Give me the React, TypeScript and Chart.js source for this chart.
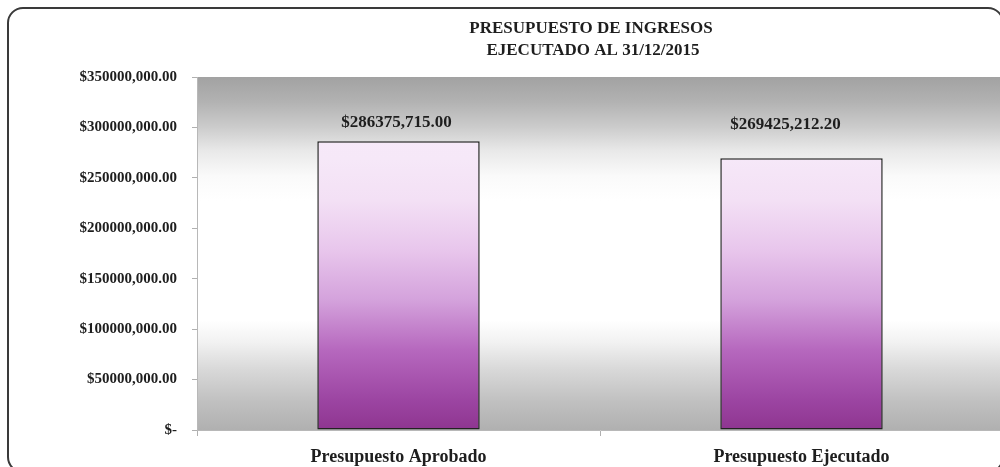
import React, { useEffect, useRef } from "react";
import { Chart, registerables } from "chart.js";

Chart.register(...registerables);

const titleLines = ["PRESUPUESTO DE INGRESOS", "EJECUTADO AL 31/12/2015"];
const categories = ["Presupuesto Aprobado", "Presupuesto Ejecutado"];
const values = [286375715.0, 269425212.2];
const yTickLabels = [
  "$-",
  "$50000,000.00",
  "$100000,000.00",
  "$150000,000.00",
  "$200000,000.00",
  "$250000,000.00",
  "$300000,000.00",
  "$350000,000.00",
];
const yMax = 350000000;
const yStep = 50000000;

const FONT = "'Liberation Serif', 'DejaVu Serif', serif";

function formatMoney(v: number): string {
  const cents = Math.round(v * 100);
  const whole = Math.floor(cents / 100);
  const frac = String(cents % 100).padStart(2, "0");
  const thousands = Math.floor(whole / 1000);
  const rest = String(whole % 1000).padStart(3, "0");
  return "$" + thousands + "," + rest + "." + frac;
}

const bgPlugin = {
  id: "plotBg",
  beforeDraw(chart: any) {
    const { ctx, chartArea } = chart;
    if (!chartArea) return;
    const { left, right, top, bottom } = chartArea;
    const g = ctx.createLinearGradient(0, top, 0, bottom);
    g.addColorStop(0, "#a2a2a2");
    g.addColorStop(0.07, "#b2b2b2");
    g.addColorStop(0.14, "#cbcbcb");
    g.addColorStop(0.21, "#e9e9e9");
    g.addColorStop(0.28, "#fafafa");
    g.addColorStop(0.35, "#ffffff");
    g.addColorStop(0.69, "#ffffff");
    g.addColorStop(0.75, "#f2f2f2");
    g.addColorStop(0.83, "#d8d8d8");
    g.addColorStop(0.92, "#c0c0c0");
    g.addColorStop(1, "#b0b0b0");
    ctx.save();
    ctx.fillStyle = g;
    ctx.fillRect(left, top, right - left, bottom - top);
    ctx.restore();
  },
};

const titlePlugin = {
  id: "twoLineTitle",
  afterDraw(chart: any) {
    const { ctx } = chart;
    ctx.save();
    ctx.fillStyle = "#1e1e1e";
    ctx.font = "bold 17px " + FONT;
    ctx.textAlign = "center";
    ctx.textBaseline = "middle";
    ctx.fillText(titleLines[0], 591, 29);
    ctx.fillText(titleLines[1], 593, 51);
    ctx.restore();
  },
};

const LABEL_NUDGE = [
  { dx: -2, dy: -19 },
  { dx: -16, dy: -34 },
];

const valueLabelPlugin = {
  id: "valueLabels",
  afterDatasetsDraw(chart: any) {
    const { ctx } = chart;
    const meta = chart.getDatasetMeta(0);
    ctx.save();
    ctx.fillStyle = "#1e1e1e";
    ctx.font = "bold 17px " + FONT;
    ctx.textAlign = "center";
    ctx.textBaseline = "middle";
    meta.data.forEach((bar: any, i: number) => {
      const n = LABEL_NUDGE[i] || { dx: 0, dy: -19 };
      ctx.fillText(formatMoney(values[i]), bar.x + n.dx, bar.y + n.dy);
    });
    ctx.restore();
  },
};

export default function App() {
  const canvasRef = useRef<HTMLCanvasElement | null>(null);

  useEffect(() => {
    if (!canvasRef.current) return;
    const chart = new Chart(canvasRef.current, {
      type: "bar",
      data: {
        labels: categories,
        datasets: [
          {
            data: values,
            backgroundColor: (c: any) => {
              const { chart } = c;
              const area = chart.chartArea;
              if (!area) return "#c080c8";
              const g = chart.ctx.createLinearGradient(0, area.bottom, 0, area.top);
              g.addColorStop(0, "#8e3590");
              g.addColorStop(0.085, "#9c45a2");
              g.addColorStop(0.227, "#b668be");
              g.addColorStop(0.368, "#d4a2dc");
              g.addColorStop(0.51, "#e8c6ec");
              g.addColorStop(0.65, "#f3e0f5");
              g.addColorStop(0.77, "#f6e8f8");
              g.addColorStop(1, "#f8ecfa");
              return g;
            },
            borderColor: "#222222",
            borderWidth: 1.5,
            borderSkipped: false,
            barPercentage: 0.403,
            categoryPercentage: 1,
          },
        ],
      },
      options: {
        animation: false,
        responsive: false,
        maintainAspectRatio: false,
        layout: { padding: { top: 77, left: 0, right: 0, bottom: 0 } },
        plugins: {
          legend: { display: false },
          title: { display: false },
          tooltip: { enabled: false },
        },
        scales: {
          x: {
            afterFit: (s: any) => {
              s.height = 37;
            },
            border: { display: true, color: "#b8b8b8", width: 1 },
            grid: {
              display: true,
              drawOnChartArea: false,
              drawTicks: true,
              tickLength: 6,
              color: "#b0b0b0",
              offset: true,
            },
            ticks: {
              color: "#1e1e1e",
              font: { family: FONT, size: 18, weight: "bold" },
              padding: 11,
              maxRotation: 0,
            },
          },
          y: {
            min: 0,
            max: yMax,
            afterFit: (s: any) => {
              s.width = 197;
            },
            border: { display: true, color: "#b8b8b8", width: 1 },
            grid: {
              display: true,
              drawOnChartArea: false,
              drawTicks: true,
              tickLength: 5,
              color: "#b0b0b0",
            },
            ticks: {
              stepSize: yStep,
              color: "#1e1e1e",
              font: { family: FONT, size: 15, weight: "bold" },
              padding: 15,
              callback: (_v: any, i: number) => yTickLabels[i],
            },
          },
        },
      },
      plugins: [bgPlugin, valueLabelPlugin, titlePlugin],
    } as any);
    return () => chart.destroy();
  }, []);

  return (
    <div
      style={{
        position: "fixed",
        left: 0,
        top: 0,
        width: 1000,
        height: 467,
        overflow: "hidden",
        background: "#ffffff",
      }}
    >
      <canvas
        ref={canvasRef}
        width={1003}
        height={467}
        style={{ position: "absolute", left: 0, top: 0, width: 1003, height: 467 }}
      />
      <div
        style={{
          position: "absolute",
          left: 7,
          top: 7,
          width: 997,
          height: 466,
          boxSizing: "border-box",
          border: "2px solid #3a3a3a",
          borderRadius: 16,
          pointerEvents: "none",
        }}
      />
    </div>
  );
}
